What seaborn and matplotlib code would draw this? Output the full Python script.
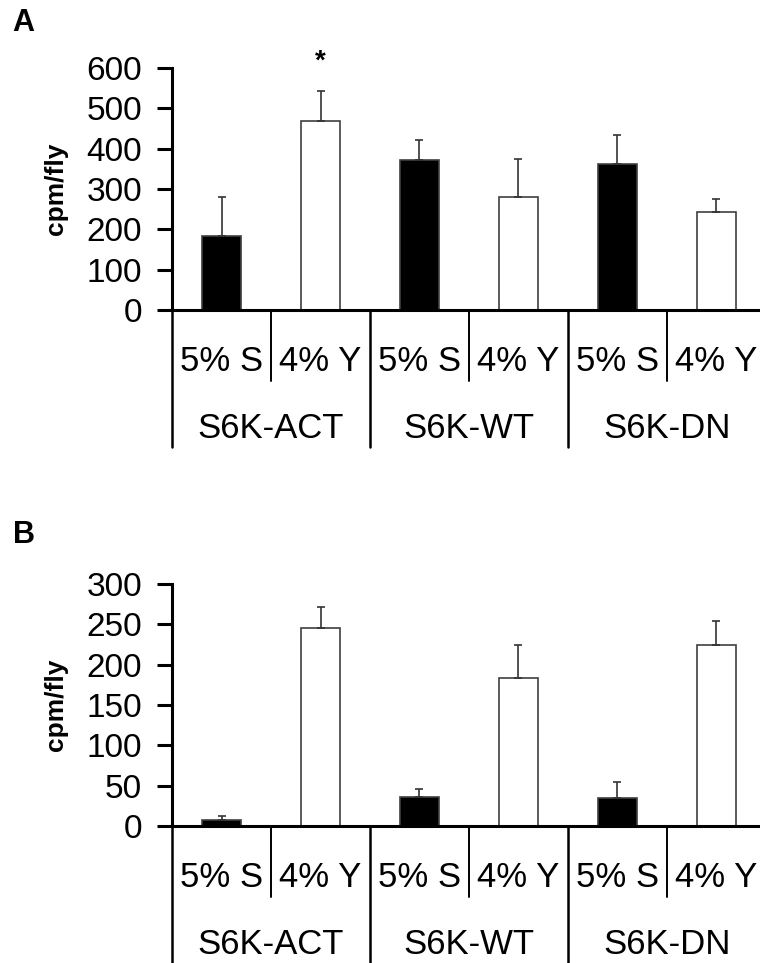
import pandas as pd
import numpy as np
import seaborn as sns
import matplotlib.pyplot as plt

# valores
genotipos = ['S6K-ACT', 'S6K-WT', 'S6K-DN']
dietas = ['5% S', '4% Y']

# painel A
media_a = [183, 469, 373, 281, 363, 244]
erro_a = [97, 75, 48, 94, 72, 32]

# painel B
media_b = [7, 246, 36, 183, 35, 225]
erro_b = [5, 26, 10, 42, 20, 29]

plt_dpi = 100
sns.set_style('white')
plt.rcParams['font.family'] = ['Liberation Sans', 'DejaVu Sans']
plt.rcParams['text.color'] = 'black'
plt.rcParams['axes.labelcolor'] = 'black'
plt.rcParams['ytick.color'] = 'black'

fig = plt.figure(figsize=(7.6, 9.63), dpi=plt_dpi)

W, H = 760, 963
ax_left = 172 / W
ax_width = 594 / W
ax_top = fig.add_axes([ax_left, (H - 310) / H, ax_width, 242 / H])
ax_bot = fig.add_axes([ax_left, (H - 826) / H, ax_width, 242 / H])

slots = [g + ' ' + d for g in genotipos for d in dietas]
cores = {'5% S': 'black', '4% Y': 'white'}


def painel(ax, medias, erros, ymax, passo, major_len):
    df = pd.DataFrame({
        'slot': slots,
        'dieta': [d for g in genotipos for d in dietas],
        'valor': medias,
    })
    sns.barplot(data=df, x='slot', y='valor', hue='dieta', order=slots,
                palette=cores, dodge=False, width=0.4, edgecolor='#404040',
                linewidth=1.2, errorbar=None, legend=False, ax=ax)
    # barras de erro so para cima
    ax.errorbar(np.arange(6), medias, yerr=[np.zeros(6), erros], fmt='none',
                ecolor='#333333', elinewidth=1.2, capsize=2.9, capthick=1.2)

    ax.set_xlim(-0.5, 5.5)
    ax.set_ylim(0, ymax)
    ax.set_yticks(np.arange(0, ymax + 1, passo))
    ax.set_xticks([])
    ax.set_xlabel('')
    ax.set_ylabel('')
    for s in ['top', 'right']:
        ax.spines[s].set_visible(False)
    for s in ['left', 'bottom']:
        ax.spines[s].set_linewidth(2.2)
        ax.spines[s].set_color('black')
    ax.tick_params(axis='y', direction='out', length=11, width=2.2,
                   pad=10.5, labelsize=24, left=True, colors='black')

    # divisorias abaixo do eixo
    tr = ax.get_xaxis_transform()
    for i, x in enumerate(np.arange(-0.5, 5.0, 1.0)):
        comp = major_len if i % 2 == 0 else 71 / 242
        lw = 1.8 if i % 2 == 0 else 1.4
        ax.plot([x, x], [0, -comp], transform=tr, color='black', lw=lw,
                clip_on=False)

    # rotulos das dietas e genotipos
    for i, s in enumerate(slots):
        ax.text(i, -61 / 242, s.split(' ', 1)[1], transform=tr, ha='center',
                va='baseline', fontsize=25, color='black')
    for j, g in enumerate(genotipos):
        ax.text(2 * j + 0.5, -127.5 / 242, g, transform=tr, ha='center',
                va='baseline', fontsize=25, color='black')


painel(ax_top, media_a, erro_a, 600, 100, 137 / 242)
painel(ax_bot, media_b, erro_b, 300, 50, 0.7)

# asterisco de significancia
ax_top.text(1, 598, '*', ha='center', va='baseline', fontsize=20,
            fontweight='bold', clip_on=False, color='black')

# rotulo y
fig.text(56 / W, 1 - 189 / H, 'cpm/fly', rotation=90, ha='center',
         va='center', fontsize=19, fontweight='bold', color='black')
fig.text(56 / W, 1 - 705 / H, 'cpm/fly', rotation=90, ha='center',
         va='center', fontsize=19, fontweight='bold', color='black')

fig.text(12.7 / W, 1 - 30.7 / H, 'A', ha='left', va='baseline',
         fontsize=22, fontweight='bold', color='black')
fig.text(12.7 / W, 1 - 543 / H, 'B', ha='left', va='baseline',
         fontsize=22, fontweight='bold', color='black')

plt.savefig('out.png', dpi=plt_dpi)
